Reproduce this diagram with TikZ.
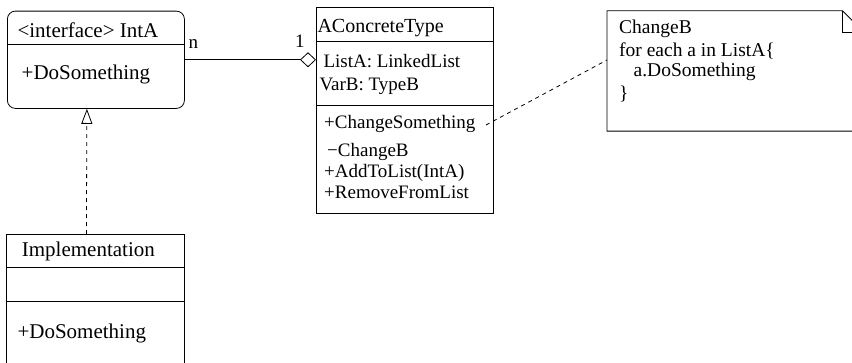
\documentclass[tikz,border=0pt]{standalone}
\usepackage{fontspec}
\setmainfont{Liberation Serif}
\usetikzlibrary{arrows.meta}
\begin{document}
\begin{tikzpicture}[x=1pt,y=-1pt,
  box/.style={draw, line width=0.8pt, inner sep=0pt, anchor=north west},
  txt/.style={anchor=base west, inner sep=0pt, font=\fontsize{19}{22}\selectfont},
  big/.style={txt, font=\fontsize{21}{24}\selectfont},
  ln/.style={line width=0.8pt}]
\useasboundingbox (0,0) rectangle (852,362);
\clip (0,0) rectangle (852,362);

% interface box
\node[box, rounded corners=8pt, minimum width=177pt, minimum height=97.3pt] (intA) at (7,10.7) {};
\draw[ln] (intA.west |- 0,44) -- (intA.east |- 0,44);
\node[big] (intAt) at (17.3,37.5) {<interface> IntA};
\node[big] (intAm) at (21.5,79.5) {+DoSomething};

% concrete type box
\node[box, minimum width=177pt, minimum height=206pt] (conc) at (316,6.7) {};
\draw[ln] (conc.west |- 0,41) -- (conc.east |- 0,41);
\draw[ln] (conc.west |- 0,105) -- (conc.east |- 0,105);
\node[txt, font=\fontsize{20}{22}\selectfont] (conct) at (317.3,32.3) {AConcreteType};
\node[txt] (a1) at (323.3,67.7) {ListA: LinkedList};
\node[txt] (a2) at (319.3,90.5) {VarB: TypeB};
\node[txt] (m1) at (324,128) {+ChangeSomething};
\node[txt] (m2) at (327,156) {−ChangeB};
\node[txt] (m3) at (324,177) {+AddToList(IntA)};
\node[txt] (m4) at (324,198) {+RemoveFromList};

% implementation box
\node[box, minimum width=178pt, minimum height=200pt] (impl) at (6,234) {};
\draw[ln] (impl.west |- 0,267.3) -- (impl.east |- 0,267.3);
\draw[ln] (impl.west |- 0,301) -- (impl.east |- 0,301);
\node[big] (implt) at (21.7,256.7) {Implementation};
\node[big] (implm) at (17.3,338.3) {+DoSomething};

% note
\node[inner sep=0pt, anchor=north west, minimum width=257pt, minimum height=120pt] (note) at (607,10.7) {};
\draw[ln] (note.north west) -- ([xshift=-22pt]note.north east) -- ([yshift=-22pt]note.north east)
  -- (note.south east) -- (note.south west) -- cycle;
\draw[ln] ([xshift=-22pt]note.north east) -- ([xshift=-22pt,yshift=-22pt]note.north east) -- ([yshift=-22pt]note.north east);
\node[txt, font=\fontsize{19.5}{22}\selectfont] (n1) at (619,33.3) {ChangeB};
\node[txt, font=\fontsize{19.5}{22}\selectfont] (n2) at (619,56.7) {for each a in ListA\{};
\node[txt, font=\fontsize{19.5}{22}\selectfont] (n3) at (633.5,76.7) {a.DoSomething};
\node[txt, font=\fontsize{19.5}{22}\selectfont] (n4) at (619,99) {\}};

% association
\draw[ln, -{Diamond[open, length=16pt, width=15pt, line width=0.8pt]}] (intA.east) -- (intA.east -| conc.west);
\node[txt] (mn) at (188.5,48) {n};
\node[txt] (m1l) at (295,47) {1};

% realization
\draw[ln, dash pattern=on 4pt off 4pt, -{Triangle[open, length=15pt, width=11pt, line width=0.8pt]}]
  ([xshift=-9pt]impl.north) -- ([xshift=-9pt]intA.south);

% note link
\coordinate (cs) at (486,125);
\draw[ln, dash pattern=on 4pt off 4pt] (cs) -- (note.west |- 0,60);
\end{tikzpicture}
\end{document}
